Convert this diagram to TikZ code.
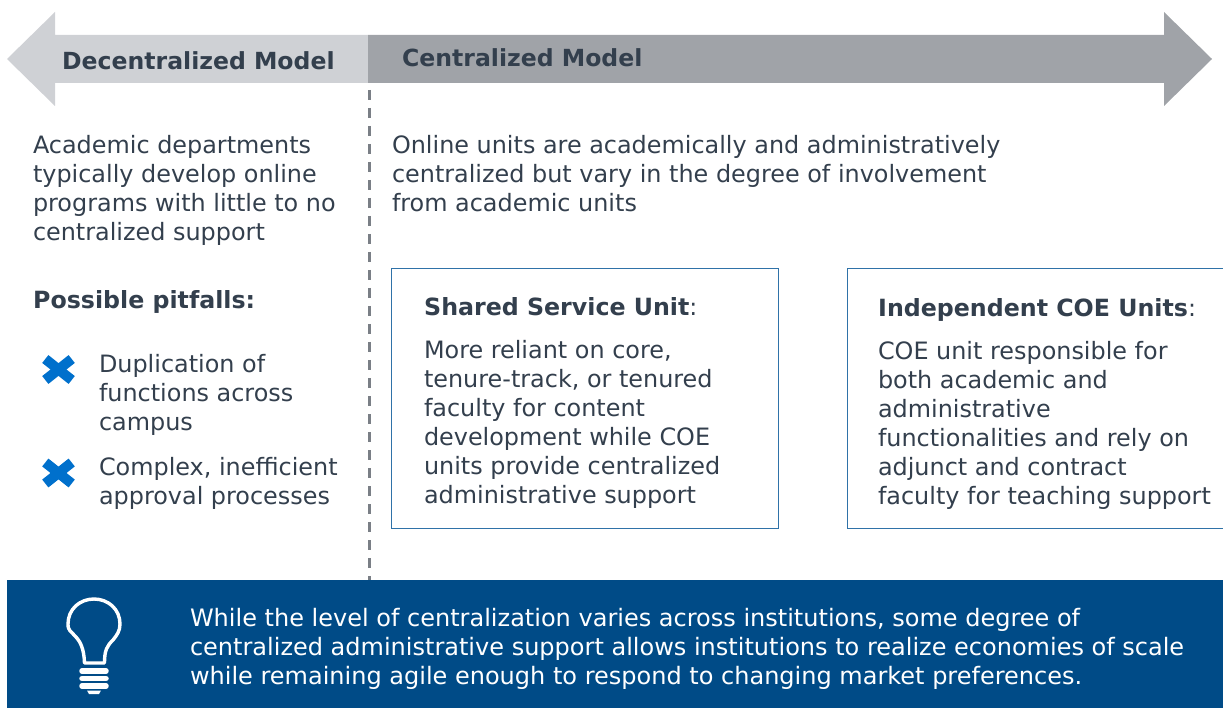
\documentclass[tikz,border=0pt]{standalone}
\usepackage{fontspec}
\setmainfont{DejaVu Sans}
\definecolor{lightbar}{HTML}{CFD1D5}
\definecolor{darkbar}{HTML}{A0A3A8}
\definecolor{ink}{HTML}{333F4D}
\definecolor{crossblue}{HTML}{0070CC}
\definecolor{navy}{HTML}{004B87}
\definecolor{boxline}{HTML}{2F72A8}
\definecolor{dashgrey}{HTML}{7A7F86}
\begin{document}
\begin{tikzpicture}[x=1pt,y=-1pt,
  body/.style={inner sep=0pt,outer sep=0pt,anchor=north west,align=left,text=ink,font=\fontsize{23.9}{29}\selectfont,text depth=0pt},
  head/.style={inner sep=0pt,anchor=base west,text=ink,font=\fontsize{23.7}{29}\selectfont\bfseries},
  unitbox/.style={draw=boxline,line width=1pt,fill=white},
  cross/.style={crossblue,line width=10pt}]
\useasboundingbox (0,0) rectangle (1223,708);
% arrows
\fill[lightbar] (368,35) -- (55,35) -- (55,12) -- (7,59) -- (55,106) -- (55,83) -- (368,83) -- cycle;
\fill[darkbar] (368,35) -- (1164,35) -- (1164,12) -- (1212,59) -- (1164,106) -- (1164,83) -- (368,83) -- cycle;
\node[head,font=\fontsize{23.55}{29}\selectfont\bfseries] (dec) at (62,70) {Decentralized Model};
\node[head,font=\fontsize{23.55}{29}\selectfont\bfseries] (cen) at (402,67) {Centralized Model};
% divider
\coordinate (divtop) at (369.5,90);
\coordinate (divbot) at (369.5,580);
\draw[dashgrey,line width=2.6pt,dash pattern=on 10pt off 8pt] (divtop) -- (divbot);
% left column
\node[body] (intro) at (33,135.5) {Academic departments\\typically develop online\\programs with little to no\\centralized support};
\node[head] (pit) at (33,309) {Possible pitfalls:};
\node[body] (p1) at (99,354.5) {Duplication of\\functions across\\campus};
\node[body] (p2) at (99,457) {Complex, inefficient\\approval processes};
\foreach \n/\cy in {a/369.5,b/473}{
  \coordinate (x\n) at (58.5,\cy);
  \draw[cross] ([shift={(-13.2,-10.5)}]x\n) -- ([shift={(13.2,10.5)}]x\n);
  \draw[cross] ([shift={(-13.2,10.5)}]x\n) -- ([shift={(13.2,-10.5)}]x\n);
}
% right column
\node[body] (cintro) at (392,135.5) {Online units are academically and administratively\\centralized but vary in the degree of involvement\\from academic units};
\draw[unitbox] (391.5,268.5) rectangle (778.5,528.5);
\draw[unitbox] (847,268.5) rectangle (1230,528.5);
\node[head] (s) at (424,316) {Shared Service Unit\textmd{:}};
\node[body] (st) at (424,340.5) {More reliant on core,\\tenure-track, or tenured\\faculty for content\\development while COE\\units provide centralized\\administrative support};
\node[head] (i) at (878,317) {Independent COE Units\textmd{:}};
\node[body] (it) at (878,341.5) {COE unit responsible for\\both academic and\\administrative\\functionalities and rely on\\adjunct and contract\\faculty for teaching support};
% banner
\fill[navy] (7,580) rectangle (1223,708);
\node[body,text=white,font=\fontsize{24}{29}\selectfont] (bt) at (190,608) {While the level of centralization varies across institutions, some degree of\\centralized administrative support allows institutions to realize economies of scale\\while remaining agile enough to respond to changing market preferences.};
% bulb
\draw[white,line width=3.4pt,line join=round]
  (84.5,663) .. controls (84,648) and (80,641) .. (75,636) .. controls (71,631) and (68,631) .. (68,624)
  .. controls (68,609) and (80,599) .. (94,599) .. controls (108,599) and (120,609) .. (120,624)
  .. controls (120,631) and (117,635) .. (113,640) .. controls (107,646) and (104.5,650) .. (104.5,663) -- cycle;
\draw[white,line width=5.5pt,line cap=round] (82,671) -- (106,671);
\draw[white,line width=5.5pt,line cap=round] (82,678.5) -- (106,678.5);
\draw[white,line width=5.5pt,line cap=round] (82,686) -- (106,686);
\fill[white] (87,690.5) -- (101,690.5) -- (99,694) -- (89,694) -- cycle;
\end{tikzpicture}
\end{document}
